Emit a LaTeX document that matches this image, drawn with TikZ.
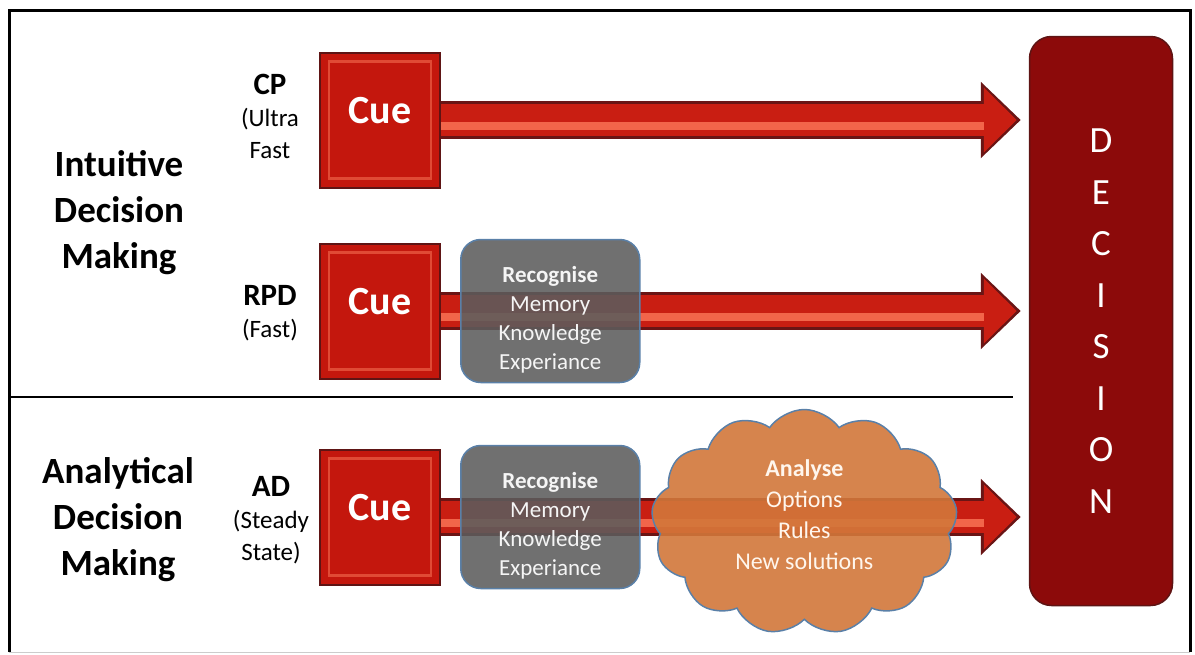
\documentclass[tikz,border=0pt]{standalone}
\usepackage{fontspec}
\setmainfont{Carlito}
\usetikzlibrary{positioning,shapes.symbols,arrows.meta,backgrounds}

\definecolor{cuered}{HTML}{C4170D}
\definecolor{cueedge}{HTML}{5E1414}
\definecolor{cuelight}{HTML}{E04A35}
\definecolor{arrowedge}{HTML}{6A1515}
\definecolor{arrowred}{HTML}{C91E12}
\definecolor{arrowlight}{HTML}{F2654A}
\definecolor{decred}{HTML}{8C0A0A}
\definecolor{recgray}{HTML}{5C5C5C}
\definecolor{bluish}{HTML}{5A80A8}
\definecolor{cloudorange}{HTML}{D2773A}

\newcommand{\toppad}{\rule{0pt}{33pt}}

\begin{document}
\begin{tikzpicture}[
x=1pt, y=-1pt,
cue/.style={rectangle, draw=cueedge, line width=2pt, fill=cuered, minimum width=120pt, minimum height=135pt, text depth=20pt, text=white, font=\fontsize{40}{44}\selectfont\bfseries,
  path picture={\draw[cuelight, line width=2.5pt] ([shift={(9pt,9pt)}]path picture bounding box.south west) rectangle ([shift={(-9pt,-9pt)}]path picture bounding box.north east);}},
dec/.style={rectangle, draw=cueedge, line width=1.5pt, fill=decred, rounded corners=22pt, minimum width=143pt, minimum height=569pt, text=white, align=center, font=\fontsize{37}{51.5}\selectfont},
recog/.style={rectangle, draw=bluish, line width=1.5pt, fill=recgray, fill opacity=0.88, text opacity=1, rounded corners=20pt, minimum width=179pt, minimum height=143pt, text=white!92!gray, align=center, font=\fontsize{23}{29}\selectfont},
think/.style={cloud, cloud puffs=13, cloud puff arc=110, aspect=1.35, draw=bluish, line width=1.5pt, fill=cloudorange, fill opacity=0.9, text opacity=1, inner sep=0pt, minimum width=306pt, minimum height=225pt, text=white!93!orange, align=center, font=\fontsize{24}{31}\selectfont, execute at end node={\rule[-14pt]{0pt}{0pt}}},
side/.style={align=center, font=\fontsize{25}{32}\selectfont},
mode/.style={align=center, font=\fontsize{37}{46}\selectfont\bfseries},
shaftout/.style={line width=38pt, draw=arrowedge, shorten >=8pt, -{Triangle[length=40pt,width=74pt]}},
shaftin/.style={line width=32pt, draw=arrowred, shorten >=12pt, -{Triangle[length=33pt,width=63pt]}},
shaftglow/.style={line width=8pt, draw=arrowlight, shorten >=45pt}
]

\useasboundingbox (0,0) rectangle (1195,654);

% frame and divider
\draw[line width=3pt] (9,652) -- (9,10) -- (1190,10) -- (1190,652);
\draw[gray!40] (9,652) -- (1190,652);
\draw[line width=2.5pt] (9,397) -- (1013,397);

\node[cue] (cue1) at (380,120) {Cue};
\node[cue, below=54pt of cue1] (cue2) {Cue};
\node[cue, below=69pt of cue2] (cue3) {Cue};

\node[dec] (dec) at (1101,321) {D\\E\\C\\I\\S\\I\\O\\N};

\node[recog, right=19pt of cue2] (rec1) {\toppad\textbf{Recognise}\\Memory\\Knowledge\\Experiance};
\node[recog, right=19pt of cue3] (rec2) {\toppad\textbf{Recognise}\\Memory\\Knowledge\\Experiance};
\node[think, right=12pt of rec2, yshift=-5pt] (analyse) {\textbf{Analyse}\\Options\\Rules\\New solutions};

\node[side] (cp) at (270,116) {{\bfseries\fontsize{31}{32}\selectfont CP}\\(Ultra\\Fast};
\node[side] (rpd) at (270,313) {{\bfseries\fontsize{31}{32}\selectfont RPD}\\(Fast)};
\node[side] (ad) at (271,520) {{\bfseries\fontsize{31}{32}\selectfont AD}\\(Steady\\State)};

\node[mode] (intuitive) at (119,213) {Intuitive\\Decision\\Making};
\node[mode] (analytical) at (118,520) {Analytical\\Decision\\Making};

% arrows behind the boxes
\begin{pgfonlayer}{background}
\foreach \c in {cue1,cue2,cue3} {
  \draw[shaftout] (\c.center) -- (\c.center -| dec.west);
  \draw[shaftin] (\c.center) -- (\c.center -| dec.west);
  \draw[shaftglow] ([yshift=-6pt]\c.center) -- ([yshift=-6pt]\c.center -| dec.west);
}
\end{pgfonlayer}

\end{tikzpicture}
\end{document}
